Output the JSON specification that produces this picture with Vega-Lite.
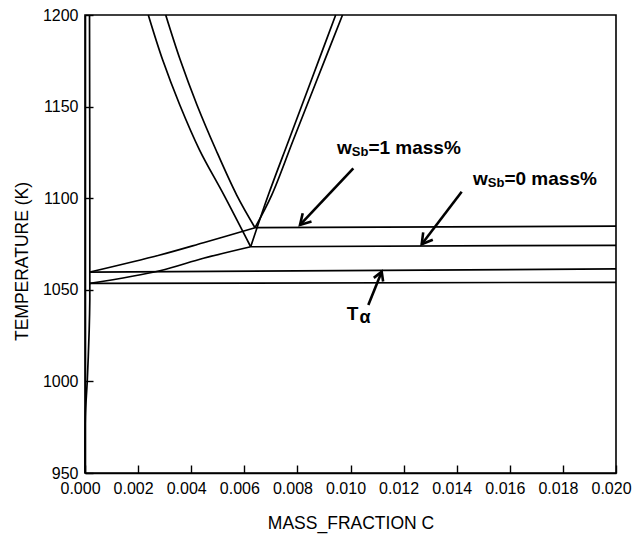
{
  "$schema": "https://vega.github.io/schema/vega-lite/v6.json",
  "width": 531,
  "height": 458,
  "autosize": "none",
  "padding": {"left": 85, "top": 15, "right": 17, "bottom": 62},
  "background": "white",
  "config": {
    "view": {"stroke": "black", "strokeWidth": 1.6},
    "font": "Liberation Sans",
    "axis": {
      "grid": false,
      "domainColor": "black",
      "domainWidth": 1.6,
      "tickColor": "black",
      "tickWidth": 1.4,
      "tickSize": -8,
      "labelColor": "black",
      "labelFont": "Liberation Sans",
      "labelFontSize": 16,
      "labelOverlap": false,
      "labelFlush": false,
      "titleFont": "Liberation Sans",
      "titleFontSize": 17.5,
      "titleFontWeight": "normal",
      "titleColor": "black"
    }
  },
  "datasets": {
    "curves": [
      {"s": "f", "o": 1, "x": 0, "T": 950},
      {"s": "f", "o": 2, "x": 0.0000113, "T": 980.6},
      {"s": "f", "o": 3, "x": 0.0000866, "T": 1000.8},
      {"s": "f", "o": 4, "x": 0.000158, "T": 1028.1},
      {"s": "f", "o": 5, "x": 0.000181, "T": 1044.4},
      {"s": "f", "o": 6, "x": 0.000181, "T": 1099},
      {"s": "f", "o": 7, "x": 0.00017, "T": 1200},
      {"s": "e1", "o": 1, "x": 0.000188, "T": 1059.7},
      {"s": "e1", "o": 2, "x": 0.00282, "T": 1069.0},
      {"s": "e1", "o": 3, "x": 0.00446, "T": 1075.7},
      {"s": "e1", "o": 4, "x": 0.006403, "T": 1083.9},
      {"s": "e0", "o": 1, "x": 0.000188, "T": 1053.5},
      {"s": "e0", "o": 2, "x": 0.00282, "T": 1060.4},
      {"s": "e0", "o": 3, "x": 0.00446, "T": 1067.2},
      {"s": "e0", "o": 4, "x": 0.006241, "T": 1073.5},
      {"s": "a30", "o": 1, "x": 0.002384, "T": 1200},
      {"s": "a30", "o": 2, "x": 0.002927, "T": 1175.4},
      {"s": "a30", "o": 3, "x": 0.003571, "T": 1150.9},
      {"s": "a30", "o": 4, "x": 0.004316, "T": 1126.3},
      {"s": "a30", "o": 5, "x": 0.005235, "T": 1101.7},
      {"s": "a30", "o": 6, "x": 0.006241, "T": 1073.5},
      {"s": "a31", "o": 1, "x": 0.00304, "T": 1200},
      {"s": "a31", "o": 2, "x": 0.003589, "T": 1175.4},
      {"s": "a31", "o": 3, "x": 0.004218, "T": 1150.9},
      {"s": "a31", "o": 4, "x": 0.004934, "T": 1126.3},
      {"s": "a31", "o": 5, "x": 0.005714, "T": 1101.7},
      {"s": "a31", "o": 6, "x": 0.006403, "T": 1083.9},
      {"s": "cm0", "o": 1, "x": 0.006241, "T": 1073.5},
      {"s": "cm0", "o": 2, "x": 0.006904, "T": 1101.7},
      {"s": "cm0", "o": 3, "x": 0.00768, "T": 1131.8},
      {"s": "cm0", "o": 4, "x": 0.008527, "T": 1164.5},
      {"s": "cm0", "o": 5, "x": 0.009442, "T": 1200},
      {"s": "cm1", "o": 1, "x": 0.006403, "T": 1083.9},
      {"s": "cm1", "o": 2, "x": 0.007032, "T": 1101.7},
      {"s": "cm1", "o": 3, "x": 0.007845, "T": 1131.8},
      {"s": "cm1", "o": 4, "x": 0.008734, "T": 1164.5},
      {"s": "cm1", "o": 5, "x": 0.009699, "T": 1200}
    ],
    "straight": [
      {"s": "ta1", "o": 1, "x": 0.000188, "T": 1059.7},
      {"s": "ta1", "o": 2, "x": 0.02, "T": 1061.4},
      {"s": "ta0", "o": 1, "x": 0.000188, "T": 1053.5},
      {"s": "ta0", "o": 2, "x": 0.02, "T": 1054.1},
      {"s": "h1", "o": 1, "x": 0.006403, "T": 1083.9},
      {"s": "h1", "o": 2, "x": 0.02, "T": 1084.8},
      {"s": "h0", "o": 1, "x": 0.006241, "T": 1073.5},
      {"s": "h0", "o": 2, "x": 0.02, "T": 1074.3}
    ],
    "arrows": [
      {"s": "l1", "o": 1, "x": 0.010106, "T": 1116.3},
      {"s": "l1", "o": 2, "x": 0.008098, "T": 1085.4},
      {"s": "h1", "o": 1, "x": 0.008531, "T": 1087.3},
      {"s": "h1", "o": 2, "x": 0.008098, "T": 1085.4},
      {"s": "h1", "o": 3, "x": 0.0082, "T": 1091.8},
      {"s": "l2", "o": 1, "x": 0.014188, "T": 1103.55},
      {"s": "l2", "o": 2, "x": 0.012682, "T": 1074.84},
      {"s": "h2", "o": 1, "x": 0.0131, "T": 1077.35},
      {"s": "h2", "o": 2, "x": 0.012682, "T": 1074.84},
      {"s": "h2", "o": 3, "x": 0.012738, "T": 1081.3},
      {"s": "l3", "o": 1, "x": 0.010671, "T": 1041.7},
      {"s": "l3", "o": 2, "x": 0.011175, "T": 1059.9},
      {"s": "h3", "o": 1, "x": 0.010878, "T": 1056.5},
      {"s": "h3", "o": 2, "x": 0.011175, "T": 1059.9},
      {"s": "h3", "o": 3, "x": 0.011228, "T": 1054.5}
    ],
    "big": [
      {"x": 0.009492, "T": 1124.1, "t": "w"},
      {"x": 0.010674, "T": 1124.1, "t": "=1 mass%"},
      {"x": 0.014614, "T": 1107.2, "t": "w"},
      {"x": 0.015797, "T": 1107.2, "t": "=0 mass%"},
      {"x": 0.009857, "T": 1033.5, "t": "T"}
    ],
    "small": [
      {"x": 0.010049, "T": 1123.0, "t": "Sb"},
      {"x": 0.015171, "T": 1106.1, "t": "Sb"}
    ],
    "greek": [
      {"x": 0.010339, "T": 1031.9, "t": "α"}
    ]
  },
  "encoding": {
    "x": {
      "field": "x", "type": "quantitative",
      "scale": {"domain": [0, 0.02], "nice": false, "zero": false},
      "axis": {
        "title": "MASS_FRACTION C",
        "values": [0, 0.002, 0.004, 0.006, 0.008, 0.01, 0.012, 0.014, 0.016, 0.018, 0.02],
        "format": ".3f",
        "labelPadding": 15,
        "labelOffset": -5,
        "titlePadding": 18
      }
    },
    "y": {
      "field": "T", "type": "quantitative",
      "scale": {"domain": [950, 1200], "nice": false, "zero": false},
      "axis": {
        "title": "TEMPERATURE (K)",
        "values": [950, 1000, 1050, 1100, 1150, 1200],
        "format": "d",
        "labelPadding": 15,
        "titleX": -63,
        "titleY": 246,
        "titleAngle": 270,
        "titleBaseline": "middle",
        "titleAlign": "center"
      }
    }
  },
  "layer": [
    {
      "data": {"name": "curves"},
      "mark": {"type": "line", "color": "black", "strokeWidth": 1.7, "interpolate": "catmull-rom"},
      "encoding": {
        "detail": {"field": "s", "type": "nominal"},
        "order": {"field": "o", "type": "quantitative"}
      }
    },
    {
      "data": {"name": "straight"},
      "mark": {"type": "line", "color": "black", "strokeWidth": 1.7},
      "encoding": {
        "detail": {"field": "s", "type": "nominal"},
        "order": {"field": "o", "type": "quantitative"}
      }
    },
    {
      "data": {"name": "arrows"},
      "mark": {"type": "line", "color": "black", "strokeWidth": 2.6, "strokeJoin": "miter", "strokeCap": "butt"},
      "encoding": {
        "detail": {"field": "s", "type": "nominal"},
        "order": {"field": "o", "type": "quantitative"}
      }
    },
    {
      "data": {"name": "big"},
      "mark": {"type": "text", "align": "left", "baseline": "alphabetic", "font": "Liberation Sans", "fontWeight": "bold", "fontSize": 19, "color": "black"},
      "encoding": {"text": {"field": "t", "type": "nominal"}}
    },
    {
      "data": {"name": "small"},
      "mark": {"type": "text", "align": "left", "baseline": "alphabetic", "font": "Liberation Sans", "fontWeight": "bold", "fontSize": 13, "color": "black"},
      "encoding": {"text": {"field": "t", "type": "nominal"}}
    },
    {
      "data": {"name": "greek"},
      "mark": {"type": "text", "align": "left", "baseline": "alphabetic", "font": "Liberation Sans", "fontWeight": "bold", "fontSize": 18, "color": "black"},
      "encoding": {"text": {"field": "t", "type": "nominal"}}
    }
  ]
}
